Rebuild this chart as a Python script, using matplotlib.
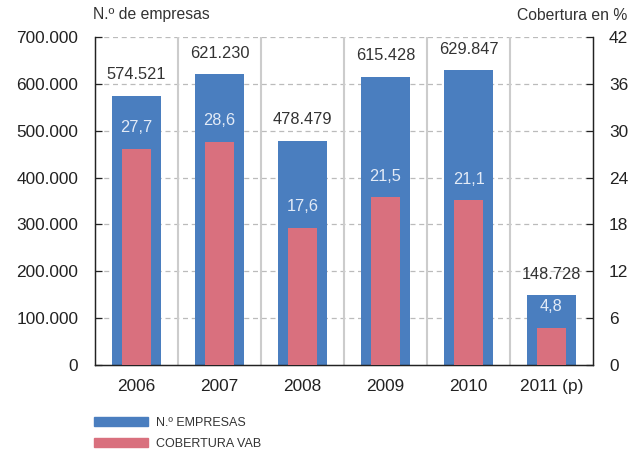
import matplotlib
matplotlib.use("Agg")
import matplotlib.pyplot as plt
from matplotlib.patches import Patch

years = ["2006", "2007", "2008", "2009", "2010", "2011 (p)"]
empresas = [574521, 621230, 478479, 615428, 629847, 148728]
cobertura = [27.7, 28.6, 17.6, 21.5, 21.1, 4.8]
empresas_labels = ["574.521", "621.230", "478.479", "615.428", "629.847", "148.728"]
cobertura_labels = ["27,7", "28,6", "17,6", "21,5", "21,1", "4,8"]
left_ticks = [0, 100000, 200000, 300000, 400000, 500000, 600000, 700000]
left_tick_labels = ["0", "100.000", "200.000", "300.000", "400.000", "500.000", "600.000", "700.000"]
right_ticks = [0, 6, 12, 18, 24, 30, 36, 42]

BLUE = "#4a7ebf"
RED = "#d9707e"
TXT = "#333333"
TICK = "#222222"

plt.rcParams['font.family'] = ['Liberation Sans', 'DejaVu Sans']

fig = plt.figure(figsize=(6.43, 4.55), dpi=100)
ax = fig.add_axes([95/643, 1-365/455, (593-95)/643, (365-37)/455])
ax2 = ax.twinx()

x = list(range(len(years)))
ax.set_xlim(-0.5, len(years)-0.5)
ax.set_ylim(0, 700000)
ax2.set_ylim(0, 42)

# grid
for t in left_ticks[1:]:
    ax.axhline(t, color="#bbbbbb", lw=0.9, ls=(0, (4, 3)), zorder=0)
# separators
for k in range(1, len(years)):
    ax.axvline(k-0.5, color="#cccccc", lw=1.5, zorder=0)

ax.bar(x, empresas, width=0.59, color=BLUE, zorder=2)
ax2.bar(x, cobertura, width=0.34, color=RED, zorder=3)

ax.set_zorder(1)
ax2.set_zorder(2)
ax2.patch.set_visible(False)

for xi, v, lab in zip(x, empresas, empresas_labels):
    ax.annotate(lab, (xi, v), xytext=(0, 15), textcoords="offset points",
                ha="center", va="center", fontsize=11.8, color=TXT)
for xi, v, lab in zip(x, cobertura, cobertura_labels):
    ax2.annotate(lab, (xi, v), xytext=(0, 15), textcoords="offset points",
                 ha="center", va="center", fontsize=11.8, color="#e3ebf7")

ax.set_yticks(left_ticks)
ax.set_yticklabels(left_tick_labels, fontsize=12.4, color=TICK)
ax2.set_yticks(right_ticks)
ax2.set_yticklabels([str(t) for t in right_ticks], fontsize=12.4, color=TICK)
ax.set_xticks(x)
ax.set_xticklabels(years, fontsize=12.4, color=TICK)

for a in (ax, ax2):
    a.tick_params(axis="y", length=5, width=0.9, direction="in", color="#222222")
    a.spines["top"].set_visible(False)
    for s in ("left", "right", "bottom"):
        a.spines[s].set_color("#222222")
        a.spines[s].set_linewidth(0.9)
ax.tick_params(axis="x", length=0, pad=10)
ax.tick_params(axis="y", pad=12)
ax2.tick_params(axis="y", pad=11.5)

fig.text(93/643, 1-15/455, "N.º de empresas", ha="left", va="center", fontsize=11.3, color=TXT)
fig.text(627/643, 1-15/455, "Cobertura en %", ha="right", va="center", fontsize=11.3, color=TXT)

leg = fig.legend(handles=[Patch(color=BLUE, label="N.º EMPRESAS"),
                          Patch(color=RED, label="COBERTURA VAB")],
                 loc="upper left", bbox_to_anchor=(94/643, 1-417/455), frameon=False,
                 borderpad=0, borderaxespad=0,
                 handlelength=4.3, handleheight=0.7, handletextpad=0.7, labelspacing=0.72,
                 prop={"size": 9})
for t in leg.get_texts():
    t.set_color(TXT)

fig.savefig("out.png", dpi=100)
